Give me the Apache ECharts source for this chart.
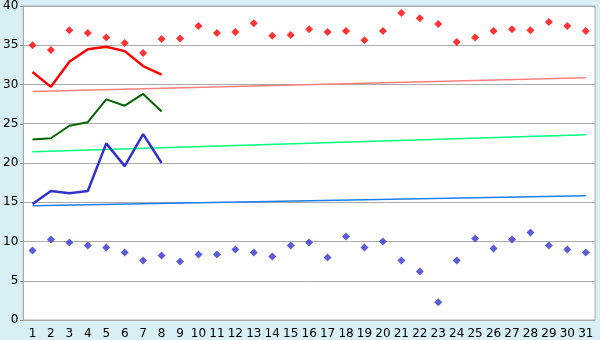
<!DOCTYPE html>
<html><head><meta charset="utf-8">
<script src="https://cdn.jsdelivr.net/npm/echarts@6/dist/echarts.min.js"></script>
<style>html,body{margin:0;padding:0;background:#d9eff6;}#c{width:600px;height:340px;}</style>
</head><body><div id="c"></div>
<script>
const days = ['1','2','3','4','5','6','7','8','9','10','11','12','13','14','15','16','17','18','19','20','21','22','23','24','25','26','27','28','29','30','31'];
const maxPts = [35.0,34.4,36.9,36.55,36.0,35.3,34.0,35.8,35.85,37.45,36.55,36.7,37.8,36.2,36.3,37.05,36.7,36.8,35.65,36.8,39.1,38.45,37.7,35.4,36.0,36.8,37.05,36.9,37.95,37.45,36.8];
const minPts = [8.85,10.25,9.87,9.49,9.24,8.6,7.59,8.22,7.46,8.35,8.35,8.98,8.6,8.09,9.49,9.87,7.97,10.63,9.24,10.0,7.59,6.19,2.25,7.59,10.38,9.11,10.25,11.14,9.49,8.98,8.6];
const redLine = [31.6,29.7,32.9,34.5,34.8,34.25,32.35,31.25];
const greenLine = [23.0,23.15,24.75,25.2,28.1,27.3,28.8,26.55];
const blueLine = [14.78,16.43,16.14,16.43,22.5,19.6,23.67,20.0];
const redTrend = [29.1,30.85];
const greenTrend = [21.43,23.6];
const blueTrend = [14.57,15.84];
const yTicks = [0,5,10,15,20,25,30,35,40];

function trend(ends){const a=days.map(()=>null);a[0]=ends[0];a[days.length-1]=ends[1];return a;}

const chart = echarts.init(document.getElementById('c'));
const font = 'DejaVu Sans';
chart.setOption({
  animation:false,
  backgroundColor:'#d9eff6',
  grid:{left:20.5,right:5,top:5.3,bottom:20,show:true,backgroundColor:'#ffffff',borderColor:'#aaaaaa',borderWidth:1},
  xAxis:{type:'category',data:days,boundaryGap:true,
    axisLine:{lineStyle:{color:'#aaaaaa',width:1}},
    axisTick:{alignWithLabel:true,length:5,lineStyle:{color:'#555555'}},
    axisLabel:{margin:8,color:'#000',fontFamily:font,fontSize:12,interval:0},
    splitLine:{show:false}},
  yAxis:{type:'value',min:yTicks[0],max:yTicks[yTicks.length-1],interval:5,
    axisLine:{show:true,lineStyle:{color:'#aaaaaa',width:1}},
    axisTick:{show:true,length:3,lineStyle:{color:'#888888'}},
    axisLabel:{margin:5,color:'#000',fontFamily:font,fontSize:12},
    splitLine:{lineStyle:{color:'#aaaaaa',width:1}}},
  series:[
    {type:'line',data:trend(redTrend),connectNulls:true,symbol:'none',lineStyle:{color:'#ff8080',width:1.5},z:2},
    {type:'line',data:trend(greenTrend),connectNulls:true,symbol:'none',lineStyle:{color:'#00ff80',width:1.5},z:2},
    {type:'line',data:trend(blueTrend),connectNulls:true,symbol:'none',lineStyle:{color:'#1a7ff0',width:1.5},z:2},
    {type:'line',data:redLine,symbol:'none',lineStyle:{color:'#ff0000',width:2.5},z:3},
    {type:'line',data:greenLine,symbol:'none',lineStyle:{color:'#006400',width:2},z:3},
    {type:'line',data:blueLine,symbol:'none',lineStyle:{color:'#3333cc',width:2.5},z:3},
    {type:'scatter',data:maxPts,symbol:'diamond',symbolSize:8,itemStyle:{color:'#ff0000'},z:4},
    {type:'scatter',data:minPts,symbol:'diamond',symbolSize:8,itemStyle:{color:'#3333cc'},z:4}
  ]
});
</script></body></html>
